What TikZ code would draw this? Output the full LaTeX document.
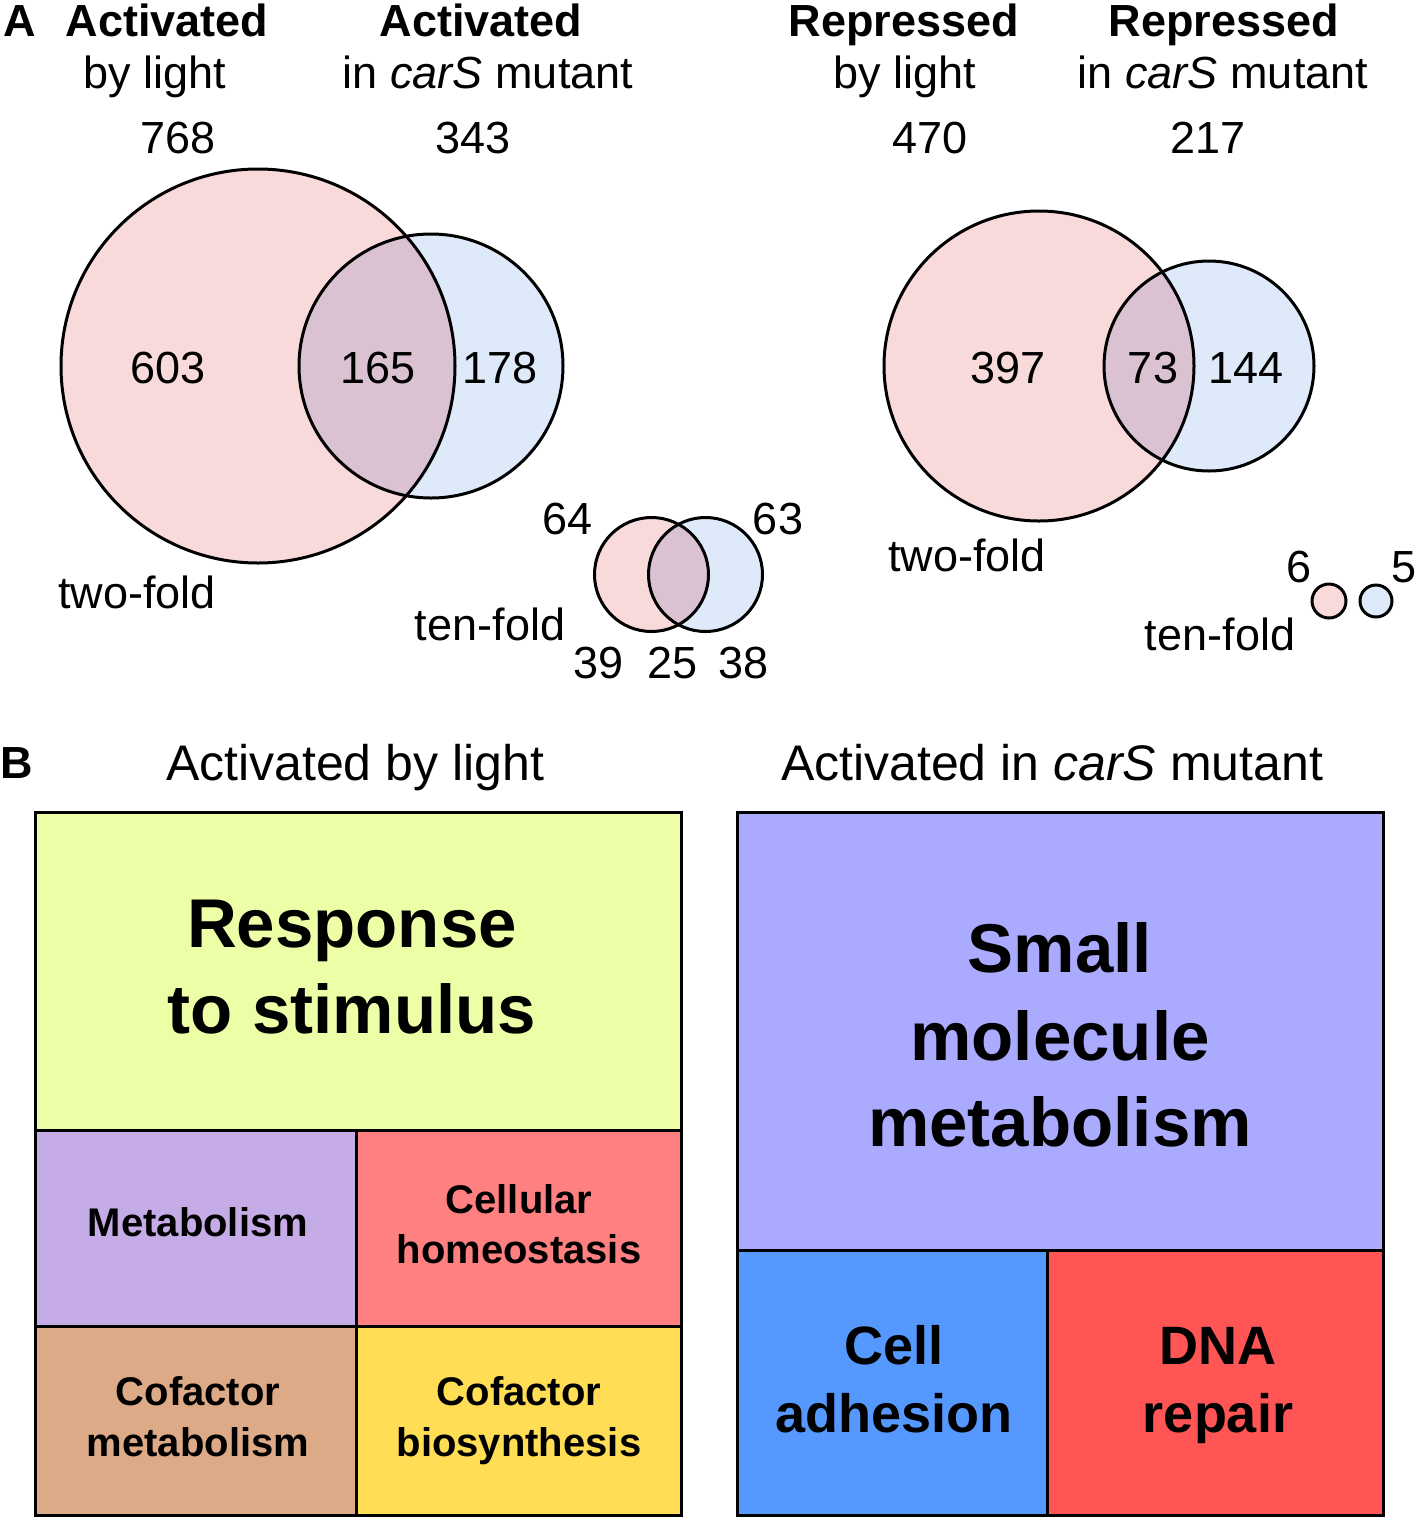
\documentclass[tikz,border=0pt]{standalone}
\usepackage{fontspec}
\setmainfont{Liberation Sans}
\definecolor{vpink}{RGB}{249,218,218}
\definecolor{vblue}{RGB}{222,234,250}
\definecolor{vboth}{RGB}{219,194,211}
\definecolor{cresp}{RGB}{236,254,166}
\definecolor{cmeta}{RGB}{198,172,230}
\definecolor{chomeo}{RGB}{255,128,128}
\definecolor{ccofm}{RGB}{221,170,136}
\definecolor{ccofb}{RGB}{255,221,85}
\definecolor{csmall}{RGB}{170,170,255}
\definecolor{cadh}{RGB}{85,153,255}
\definecolor{cdna}{RGB}{255,85,85}
\begin{document}
\begin{tikzpicture}[x=1pt,y=-1pt,
  ta/.style={inner sep=0pt, font=\fontsize{45}{54}\selectfont, text height=32pt, text depth=0pt},
  tab/.style={inner sep=0pt, font=\fontsize{45}{54}\selectfont\bfseries, text height=32pt, text depth=0pt},
  tb/.style={inner sep=0pt, font=\fontsize{50}{60}\selectfont, text height=36pt, text depth=0pt},
  tbig/.style={inner sep=0pt, font=\fontsize{69}{80}\selectfont\bfseries, text height=50pt, text depth=0pt},
  tmid/.style={inner sep=0pt, font=\fontsize{40}{48}\selectfont\bfseries, text height=29pt, text depth=0pt},
  tmid2/.style={inner sep=0pt, font=\fontsize{54}{64}\selectfont\bfseries, text height=39pt, text depth=0pt},
  ring/.style={draw=black, line width=3pt},
  cell/.style={draw=black, line width=3pt}]
\useasboundingbox (0,0) rectangle (1418,1519);

% ---------- Panel A headings ----------
\node[tab] (lA) at (20,20) {A};
\node[tab] (h1a) at (167,20) {Activated};
\node[ta]  (h1b) at (155,72) {by light};
\node[ta]  (h1n) at (178,137) {768};
\node[tab] (h2a) at (481,20) {Activated};
\node[ta]  (h2b) at (488,72) {in \textit{carS} mutant};
\node[ta]  (h2n) at (473,137) {343};
\node[tab] (h3a) at (904,20) {Repressed};
\node[ta]  (h3b) at (905,72) {by light};
\node[ta]  (h3n) at (930,137) {470};
\node[tab] (h4a) at (1224,20) {Repressed};
\node[ta]  (h4b) at (1223,72) {in \textit{carS} mutant};
\node[ta]  (h4n) at (1208,137) {217};

% ---------- Venn: activated two-fold ----------
\fill[vpink] (258,366) circle[radius=197pt];
\fill[vblue] (431,366) circle[radius=132pt];
\begin{scope}
  \clip (258,366) circle[radius=197pt];
  \fill[vboth] (431,366) circle[radius=132pt];
\end{scope}
\draw[ring] (258,366) circle[radius=197pt];
\draw[ring] (431,366) circle[radius=132pt];
\node[ta] (v1) at (168,367) {603};
\node[ta] (v2) at (378,367) {165};
\node[ta] (v3) at (500,367) {178};
\node[ta] (tf1) at (137,592) {two-fold};

% ---------- Venn: activated ten-fold ----------
\fill[vpink] (651.5,574.5) circle[radius=57pt];
\fill[vblue] (705.5,574.5) circle[radius=57pt];
\begin{scope}
  \clip (651.5,574.5) circle[radius=57pt];
  \fill[vboth] (705.5,574.5) circle[radius=57pt];
\end{scope}
\draw[ring] (651.5,574.5) circle[radius=57pt];
\draw[ring] (705.5,574.5) circle[radius=57pt];
\node[ta] (w1) at (568,518) {64};
\node[ta] (w2) at (778,518) {63};
\node[ta] (w3) at (599,662) {39};
\node[ta] (w4) at (673,662) {25};
\node[ta] (w5) at (744,662) {38};
\node[ta] (tn1) at (490,624) {ten-fold};

% ---------- Venn: repressed two-fold ----------
\fill[vpink] (1039,366) circle[radius=155pt];
\fill[vblue] (1209,366) circle[radius=105pt];
\begin{scope}
  \clip (1039,366) circle[radius=155pt];
  \fill[vboth] (1209,366) circle[radius=105pt];
\end{scope}
\draw[ring] (1039,366) circle[radius=155pt];
\draw[ring] (1209,366) circle[radius=105pt];
\node[ta] (r1) at (1008,367) {397};
\node[ta] (r2) at (1153,367) {73};
\node[ta] (r3) at (1246,367) {144};
\node[ta] (tf2) at (967,555) {two-fold};

% ---------- Venn: repressed ten-fold ----------
\filldraw[fill=vpink, ring] (1329,601) circle[radius=17pt];
\filldraw[fill=vblue, ring] (1376,601) circle[radius=16pt];
\node[ta] (s1) at (1299,566) {6};
\node[ta] (s2) at (1404,566) {5};
\node[ta] (tn2) at (1220,634) {ten-fold};

% ---------- Panel B ----------
\node[tab] (lB) at (17,762) {B};
\node[tb] (hb1) at (355,762) {Activated by light};
\node[tb] (hb2) at (1052,762) {Activated in \textit{carS} mutant};

% left treemap
\filldraw[fill=cresp, cell] (35,812) rectangle (681,1130);
\filldraw[fill=cmeta, cell] (35,1130) rectangle (356,1326);
\filldraw[fill=chomeo, cell] (356,1130) rectangle (681,1326);
\filldraw[fill=ccofm, cell] (35,1326) rectangle (356,1515);
\filldraw[fill=ccofb, cell] (356,1326) rectangle (681,1515);
\node[tbig] (resp1) at (352,922) {Response};
\node[tbig] (resp2) at (352,1008) {to stimulus};
\node[tmid] (met) at (198,1222) {Metabolism};
\node[tmid] (hom1) at (519,1199) {Cellular};
\node[tmid] (hom2) at (519,1249) {homeostasis};
\node[tmid] (cm1) at (198,1391) {Cofactor};
\node[tmid] (cm2) at (198,1442) {metabolism};
\node[tmid] (cb1) at (519,1391) {Cofactor};
\node[tmid] (cb2) at (519,1442) {biosynthesis};

% right treemap
\filldraw[fill=csmall, cell] (737,812) rectangle (1383,1250);
\filldraw[fill=cadh, cell] (737,1250) rectangle (1047,1515);
\filldraw[fill=cdna, cell] (1047,1250) rectangle (1383,1515);
\node[tbig] (sm1) at (1060,947) {Small};
\node[tbig] (sm2) at (1060,1035) {molecule};
\node[tbig] (sm3) at (1060,1121) {metabolism};
\node[tmid2] (ad1) at (894,1345) {Cell};
\node[tmid2] (ad2) at (894,1413) {adhesion};
\node[tmid2] (dn1) at (1218,1345) {DNA};
\node[tmid2] (dn2) at (1218,1413) {repair};
\end{tikzpicture}
\end{document}
